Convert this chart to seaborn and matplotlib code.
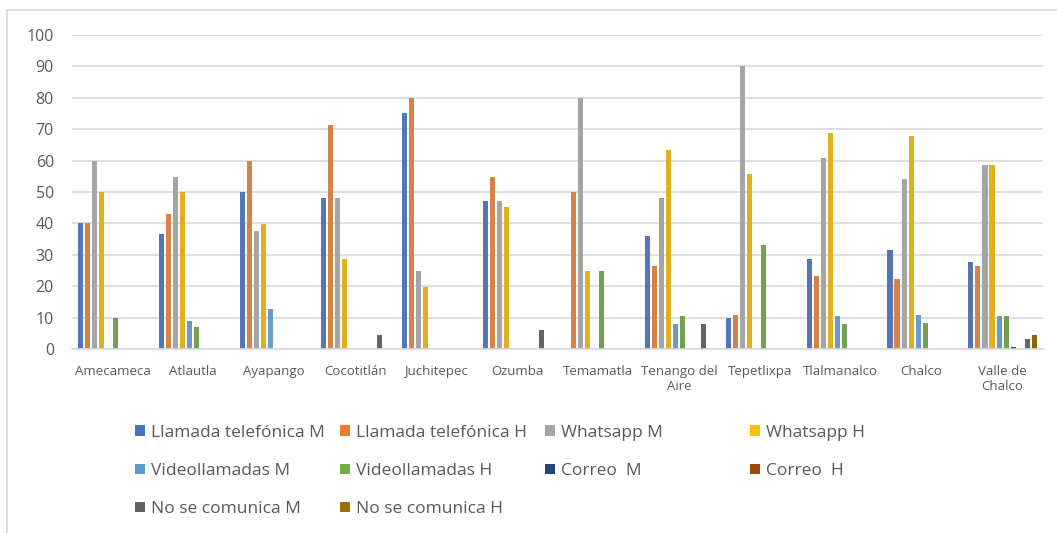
import pandas as pd
import numpy as np
import matplotlib.pyplot as plt
import seaborn as sns
from matplotlib.patches import Patch
from matplotlib.lines import Line2D

# Municipios (eje X)
municipios = ['Amecameca', 'Atlautla', 'Ayapango', 'Cocotitlán', 'Juchitepec', 'Ozumba',
              'Temamatla', 'Tenango del\nAire', 'Tepetlixpa', 'Tlalmanalco', 'Chalco',
              'Valle de\nChalco']

series = ['Llamada telefónica M', 'Llamada telefónica H', 'Whatsapp M', 'Whatsapp H',
          'Videollamadas M', 'Videollamadas H', 'Correo  M', 'Correo  H',
          'No se comunica M', 'No se comunica H']

llamada_m = [40, 36.5, 50, 48, 75, 47, 0, 36, 10, 28.7, 31.6, 27.7]
llamada_h = [40, 43, 60, 71.2, 80, 54.7, 50, 26.5, 11, 23.2, 22.2, 26.5]
whatsapp_m = [60, 54.7, 37.6, 48, 24.9, 47, 80, 48, 90, 60.8, 54.1, 58.5]
whatsapp_h = [50, 50, 39.9, 28.6, 19.9, 45.3, 25, 63.4, 55.7, 68.9, 67.9, 58.5]
video_m = [0, 8.9, 12.7, 0, 0, 0, 0, 7.9, 0, 10.5, 11, 10.5]
video_h = [10, 7.2, 0, 0, 0, 0, 25, 10.6, 33.1, 7.9, 8.3, 10.5]
correo_m = [0, 0, 0, 0, 0, 0, 0, 0, 0, 0, 0, 0.6]
correo_h = [0, 0, 0, 0, 0, 0, 0, 0, 0, 0, 0, 0]
no_com_m = [0, 0, 0, 4.5, 0, 6.1, 0, 7.9, 0, 0, 0, 3.4]
no_com_h = [0, 0, 0, 0, 0, 0, 0, 0, 0, 0, 0, 4.5]

valores = [llamada_m, llamada_h, whatsapp_m, whatsapp_h, video_m, video_h,
           correo_m, correo_h, no_com_m, no_com_h]

colores = ['#4472C4', '#ED7D31', '#A5A5A5', '#FFC000', '#5B9BD5', '#70AD47',
           '#264478', '#9E480E', '#636363', '#997300']

rows = []
for s, vals in zip(series, valores):
    for m, v in zip(municipios, vals):
        rows.append({'municipio': m, 'serie': s, 'valor': v})
df = pd.DataFrame(rows)

sns.set_style('white')
plt.rcParams['font.family'] = ['Open Sans', 'DejaVu Sans']
texto = '#595959'

fig = plt.figure(figsize=(10.57, 5.33), dpi=100)
ax = fig.add_axes([0.0681, 0.3447, 0.9187, 0.5902])

sns.barplot(data=df, x='municipio', y='valor', hue='serie', order=municipios,
            hue_order=series, palette=colores, width=0.87, gap=0.28,
            linewidth=0, legend=False, ax=ax)

ax.set_ylim(0, 100)
ax.set_xlim(-0.5, len(municipios) - 0.5)
ax.set_yticks(range(0, 101, 10))
ax.yaxis.grid(True, color='#D9D9D9', linewidth=1.2)
ax.set_axisbelow(True)
for side in ['top', 'right', 'left']:
    ax.spines[side].set_visible(False)
ax.spines['bottom'].set_color('#D9D9D9')
ax.spines['bottom'].set_linewidth(1.2)
ax.set_xlabel('')
ax.set_ylabel('')
ax.tick_params(axis='y', length=0, labelsize=11.5, labelcolor=texto, pad=13)
ax.tick_params(axis='x', length=0, labelsize=9.5, labelcolor=texto, pad=11)
for lbl in ax.get_xticklabels():
    lbl.set_linespacing(1.25)

# Marco del área del gráfico
fig.add_artist(Line2D([7 / 1057, 1.0], [1 - 10 / 533, 1 - 10 / 533], color='#D9D9D9', lw=1.2))
fig.add_artist(Line2D([7 / 1057, 7 / 1057], [0, 1 - 10 / 533], color='#D9D9D9', lw=1.2))

# Leyenda en cuatro columnas (orden por filas)
columnas = [[0, 4, 8], [1, 5, 9], [2, 6], [3, 7]]
x_cols = [135, 340, 545, 750]
for idx, xc in zip(columnas, x_cols):
    handles = [Patch(facecolor=colores[i], edgecolor='none') for i in idx]
    labels = [series[i] for i in idx]
    leg = fig.legend(handles, labels, loc='upper left',
                     bbox_to_anchor=(xc / 1057, 1 - 425 / 533), frameon=False,
                     fontsize=12.5, handlelength=0.58, handleheight=0.58,
                     handletextpad=0.35, labelspacing=1.27, borderaxespad=0,
                     borderpad=0)
    for t in leg.get_texts():
        t.set_color(texto)

plt.savefig('out.png', dpi=100)
